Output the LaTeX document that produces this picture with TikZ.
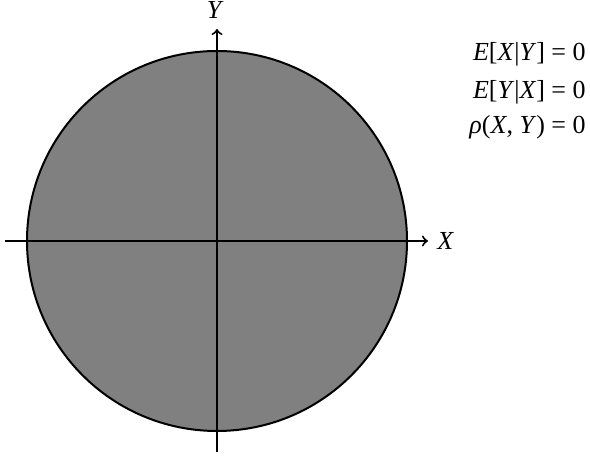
\documentclass[tikz,border=0pt]{standalone}
\usepackage{fontspec}
\setmainfont{Liberation Serif}
\definecolor{discFill}{HTML}{808080}
\tikzset{axis line/.style={draw=black,line width=1pt,->},
  disc/.style={fill=discFill,draw=black,line width=1pt},
  axis label/.style={font=\fontsize{13}{15}\selectfont\itshape,inner sep=0pt},
  stat line/.style={anchor=base east,inner sep=0pt,font=\fontsize{13}{15}\selectfont}}
\newcommand{\var}[1]{\textit{#1}}

\begin{document}
\begin{tikzpicture}[x=0.5pt,y=-0.5pt]
\useasboundingbox (0,0) rectangle (590,458);

% Uniform disc: zero conditional means, zero correlation.
\coordinate (origin) at (217,241);
\fill[disc] (origin) circle[radius=95pt];

\coordinate (xstart) at (5,241);
\coordinate (xend) at (428,241);
\coordinate (ystart) at (217,452);
\coordinate (yend) at (217,29);
\draw[axis line] (xstart) -- (xend);
\draw[axis line] (ystart) -- (yend);

\node[axis label, anchor=base west] (xlabel) at (437,250) {X};
\node[axis label, anchor=base] (ylabel) at (214,19) {Y};

\node[stat line] (condxy) at (586,61) {\var{E}[\var{X}|\var{Y}] = 0};
\node[stat line] (condyx) at (586,99) {\var{E}[\var{Y}|\var{X}] = 0};
\node[stat line] (corr) at (586,134) {\var{ρ}(\var{X}, \var{Y}) = 0};

\end{tikzpicture}
\end{document}
